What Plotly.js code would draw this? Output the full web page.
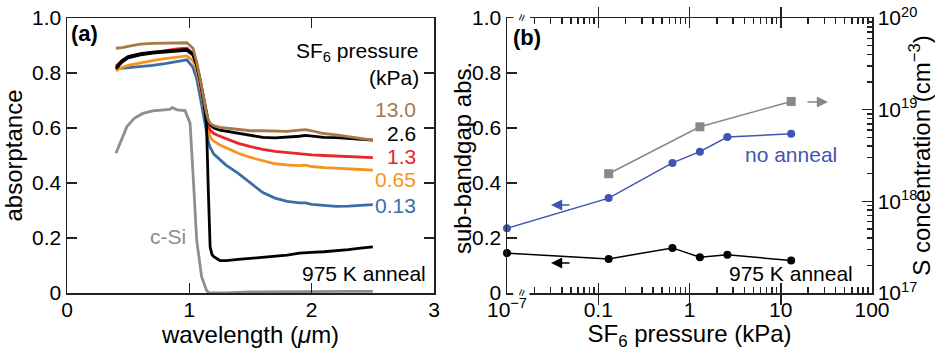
<!DOCTYPE html>
<html>
<head>
<meta charset="utf-8">
<script src="https://cdn.plot.ly/plotly-3.0.1.min.js"></script>
<style>html,body{margin:0;padding:0;background:#fff;}#chart{width:935px;height:351px;}</style>
</head>
<body>
<div id="chart"></div>
<script>
// ---------- Panel (a): absorptance spectra ----------
const wavelength = [0.40, 0.45, 0.50, 0.60, 0.70, 0.80, 0.90, 0.98, 1.03, 1.06, 1.09, 1.12, 1.14, 1.155, 1.17, 1.185, 1.20, 1.25, 1.30, 1.40, 1.50, 1.60, 1.70, 1.80, 1.90, 1.95, 2.00, 2.10, 2.20, 2.30, 2.40, 2.50];
const abs13_0 = [0.890, 0.892, 0.897, 0.905, 0.908, 0.908, 0.910, 0.910, 0.890, 0.840, 0.775, 0.700, 0.654, 0.630, 0.617, 0.612, 0.608, 0.602, 0.600, 0.595, 0.590, 0.590, 0.588, 0.588, 0.592, 0.594, 0.590, 0.580, 0.575, 0.568, 0.562, 0.556];
const abs2_6  = [0.818, 0.845, 0.860, 0.870, 0.876, 0.880, 0.884, 0.886, 0.870, 0.830, 0.770, 0.700, 0.650, 0.625, 0.612, 0.605, 0.600, 0.592, 0.588, 0.580, 0.572, 0.566, 0.564, 0.566, 0.570, 0.573, 0.570, 0.566, 0.565, 0.562, 0.560, 0.556];
const abs1_3  = [0.825, 0.845, 0.858, 0.868, 0.874, 0.880, 0.888, 0.890, 0.870, 0.830, 0.765, 0.690, 0.640, 0.610, 0.593, 0.585, 0.580, 0.570, 0.562, 0.544, 0.532, 0.522, 0.515, 0.510, 0.505, 0.505, 0.502, 0.500, 0.498, 0.496, 0.494, 0.492];
const abs0_65 = [0.808, 0.820, 0.828, 0.837, 0.845, 0.852, 0.858, 0.862, 0.845, 0.810, 0.750, 0.680, 0.625, 0.590, 0.568, 0.558, 0.552, 0.538, 0.527, 0.508, 0.493, 0.481, 0.470, 0.466, 0.463, 0.465, 0.460, 0.456, 0.453, 0.450, 0.449, 0.447];
const abs0_13 = [0.815, 0.817, 0.819, 0.823, 0.828, 0.834, 0.843, 0.848, 0.820, 0.780, 0.710, 0.630, 0.585, 0.550, 0.530, 0.515, 0.505, 0.485, 0.465, 0.435, 0.400, 0.365, 0.345, 0.333, 0.328, 0.328, 0.322, 0.318, 0.315, 0.316, 0.318, 0.321];
const abs975K = [0.815, 0.840, 0.855, 0.866, 0.872, 0.877, 0.880, 0.882, 0.865, 0.830, 0.770, 0.690, 0.617, 0.375, 0.168, 0.140, 0.132, 0.118, 0.118, 0.122, 0.126, 0.130, 0.133, 0.138, 0.145, 0.147, 0.148, 0.150, 0.153, 0.158, 0.163, 0.168];
const cSiWavelength = [0.40, 0.45, 0.49, 0.55, 0.62, 0.70, 0.78, 0.84, 0.86, 0.90, 0.965, 1.006, 1.03, 1.06, 1.10, 1.14, 1.16, 1.30, 1.50, 1.70, 1.90, 2.10, 2.30, 2.50];
const cSiAbs = [0.508, 0.565, 0.605, 0.635, 0.653, 0.662, 0.665, 0.668, 0.674, 0.666, 0.663, 0.617, 0.435, 0.193, 0.060, 0.010, 0.000, 0.000, 0.004, 0.005, 0.005, 0.005, 0.006, 0.006];
const pressureLabels = ['13.0', '2.6', '1.3', '0.65', '0.13'];

// ---------- Panel (b): sub-bandgap absorptance vs SF6 pressure ----------
const sf6Pressure = [1e-7, 0.13, 0.65, 1.3, 2.6, 13.0];
const subgapNoAnneal = [0.235, 0.345, 0.473, 0.514, 0.567, 0.579];
const subgap975K = [0.145, 0.124, 0.164, 0.130, 0.139, 0.118];
const sPressure = [0.13, 1.3, 13.0];
const sConcentration = [2.0e18, 6.5e18, 1.23e19];
const xTickVals = [1e-7, 0.1, 1, 10, 100];
const xTickText = ['10<sup>−7</sup>', '0.1', '1', '10', '100'];
const y3TickVals = [1e17, 1e18, 1e19, 1e20];
const y3TickText = ['10<sup>17</sup>', '10<sup>18</sup>', '10<sup>19</sup>', '10<sup>20</sup>'];

// broken axis: the "no SF6" point (1e-7 kPa) is drawn at the left edge (0.01 position)
const BREAK_POS = 0.01;
const axisPos = p => (p < 1e-3 ? BREAK_POS : p);

const FONT = '"Liberation Sans", Arial, Helvetica, sans-serif';
const W = 935, H = 351;
const px = x => x / W, py = y => 1 - y / H;

const C = {brown:'#A57A48', black:'#000000', red:'#E8262B', orange:'#F7941D', blue:'#3A6EA5', gray:'#8E8E8E', bblue:'#3F56B0', bgray:'#888888', axis:'#222222'};

function line(x, y, color, w, xa, ya) {
  return {x, y, type:'scatter', mode:'lines', line:{color, width:w}, xaxis:xa, yaxis:ya, hoverinfo:'skip'};
}

const LW = 2.8;
const traces = [
  line(cSiWavelength, cSiAbs, C.gray, LW, 'x', 'y'),
  line(wavelength, abs0_13, C.blue, LW, 'x', 'y'),
  line(wavelength, abs0_65, C.orange, LW, 'x', 'y'),
  line(wavelength, abs1_3, C.red, LW, 'x', 'y'),
  line(wavelength, abs975K, C.black, LW, 'x', 'y'),
  line(wavelength, abs2_6, C.black, LW, 'x', 'y'),
  line(wavelength, abs13_0, C.brown, LW, 'x', 'y'),
  {x: sPressure, y: sConcentration, type:'scatter', mode:'lines+markers', xaxis:'x2', yaxis:'y3',
   line:{color:C.bgray, width:1.5}, marker:{symbol:'square', size:9, color:C.bgray}},
  {x: sf6Pressure.map(axisPos), y: subgapNoAnneal, type:'scatter', mode:'lines+markers', xaxis:'x2', yaxis:'y2',
   line:{color:C.bblue, width:1.5}, marker:{symbol:'circle', size:8, color:C.bblue}, cliponaxis:false},
  {x: sf6Pressure.map(axisPos), y: subgap975K, type:'scatter', mode:'lines+markers', xaxis:'x2', yaxis:'y2',
   line:{color:C.black, width:1.5}, marker:{symbol:'circle', size:8, color:C.black}, cliponaxis:false},
  // empty traces that only host the minor-tick overlay axes
  {x:[], y:[], type:'scatter', mode:'lines', xaxis:'x3', yaxis:'y2', hoverinfo:'skip'},
  {x:[], y:[], type:'scatter', mode:'lines', xaxis:'x2', yaxis:'y4', hoverinfo:'skip'}
];

function minorLog(d0, d1) {
  const v = [];
  for (let d = d0; d < d1; d++) for (let m = 2; m <= 9; m++) v.push(m * Math.pow(10, d));
  return v;
}

const tickFont = {family: FONT, size: 21, color: '#000'};
const titleFont = {family: FONT, size: 24, color: '#000'};
const axBase = {showline:true, linewidth:1.5, linecolor:C.axis, ticks:'inside', ticklen:10, tickwidth:1.5, tickcolor:C.axis,
  showgrid:false, zeroline:false, tickfont:tickFont, automargin:false, fixedrange:true};
const yDomain = [py(293), py(18)];

const layout = {
  width: W, height: H, margin:{l:0, r:0, t:0, b:0},
  paper_bgcolor:'#fff', plot_bgcolor:'rgba(0,0,0,0)', showlegend:false,
  font:{family: FONT, size:21, color:'#000'},
  xaxis: Object.assign({}, axBase, {domain:[px(67), px(434)], range:[0, 3], tickmode:'array', tickvals:[0, 1, 2, 3], ticktext:['0','1','2','3'],
    mirror:'ticks', anchor:'y', ticklabelstandoff:-3,
    title:{text:'wavelength (<i>μ</i>m)', font:titleFont, standoff:0}}),
  yaxis: Object.assign({}, axBase, {domain:yDomain, range:[0, 1], tickmode:'array', tickvals:[0, 0.2, 0.4, 0.6, 0.8, 1.0],
    ticktext:['0','0.2','0.4','0.6','0.8','1.0'], mirror:'ticks', anchor:'x',
    title:{text:'absorptance', font:titleFont, standoff:4}}),
  xaxis2: Object.assign({}, axBase, {domain:[px(507), px(872)], type:'log', range:[-2, 2], tickmode:'array',
    tickvals: xTickVals.map(axisPos), ticktext: xTickText, mirror:'allticks', anchor:'y2', ticklabelstandoff:-3,
    title:{text:'SF<sub>6</sub> pressure (kPa)', font:titleFont, standoff:0}}),
  // minor ticks of the log x axis (overlay, no labels)
  xaxis3: Object.assign({}, axBase, {domain:[px(507), px(872)], type:'log', range:[-2, 2], tickmode:'array',
    tickvals: minorLog(-2, 2), ticklen:6, showticklabels:false, mirror:'ticks', overlaying:'x2', anchor:'y2', side:'bottom'}),
  yaxis2: Object.assign({}, axBase, {domain:yDomain, range:[0, 1], tickmode:'array', tickvals:[0, 0.2, 0.4, 0.6, 0.8, 1.0],
    ticktext:['0','0.2','0.4','0.6','0.8','1.0'], mirror:false, anchor:'x2'}),
  yaxis3: Object.assign({}, axBase, {domain:yDomain, type:'log', range:[17, 20], tickmode:'array',
    tickvals: y3TickVals, ticktext: y3TickText, overlaying:'y2', side:'right', anchor:'x2',
    title:{text:'S concentration (cm<sup>−3</sup>)', font:titleFont, standoff:3}}),
  // minor ticks of the log right axis (overlay, no labels)
  yaxis4: Object.assign({}, axBase, {domain:yDomain, type:'log', range:[17, 20], tickmode:'array',
    tickvals: minorLog(17, 20), ticklen:5, showticklabels:false, overlaying:'y2', side:'right', anchor:'x2'}),
  annotations: []
};

function txt(text, x, y, opts) {
  return Object.assign({text, x:px(x), y:py(y), xref:'paper', yref:'paper', showarrow:false,
    xanchor:'center', yanchor:'middle', font:{family:FONT, size:21, color:'#000'}}, opts || {});
}
const pColors = [C.brown, C.black, C.red, C.orange, C.blue];
const pY = [109, 133, 156, 179, 206];
const A = layout.annotations;
A.push(txt('<b>(a)</b>', 84, 33, {font:{family:FONT, size:22, color:'#000'}}));
A.push(txt('SF<sub>6</sub> pressure', 421, 52, {xanchor:'right'}));
A.push(txt('(kPa)', 421, 77, {xanchor:'right'}));
pressureLabels.forEach((t, i) => A.push(txt(t, 418, pY[i], {xanchor:'right', font:{family:FONT, size:21, color:pColors[i]}})));
A.push(txt('975 K anneal', 428, 273, {xanchor:'right'}));
A.push(txt('c-Si', 168, 236, {font:{family:FONT, size:21, color:C.gray}}));
// left-axis title of panel (b), placed tight against its tick labels as in the original
A.push(txt('sub-bandgap abs.', 462, 158, {textangle:-90, font:titleFont}));
A.push(txt('<b>(b)</b>', 527, 37, {font:{family:FONT, size:22, color:'#000'}}));
A.push(txt('no anneal', 791, 154, {font:{family:FONT, size:21, color:C.bblue}}));
A.push(txt('975 K anneal', 791, 273));
// axis-break marks
A.push(txt('≈', 521, 18, {textangle:-75, bgcolor:'#fff', borderpad:0, font:{family:FONT, size:13, color:'#000'}}));
A.push(txt('≈', 521, 293, {textangle:-75, bgcolor:'#fff', borderpad:0, font:{family:FONT, size:13, color:'#000'}}));
// axis-direction arrows
function arrow(xHead, y, dx, color) {
  return {x:px(xHead), y:py(y), xref:'paper', yref:'paper', ax:dx, ay:0, text:'', showarrow:true,
    arrowhead:2, arrowsize:1.4, arrowwidth:1.6, arrowcolor:color};
}
A.push(arrow(828, 102, -22, C.bgray));
A.push(arrow(551, 205, 20, C.bblue));
A.push(arrow(551, 263, 20, C.black));

Plotly.newPlot('chart', traces, layout, {staticPlot:true, displayModeBar:false});
</script>
</body>
</html>
